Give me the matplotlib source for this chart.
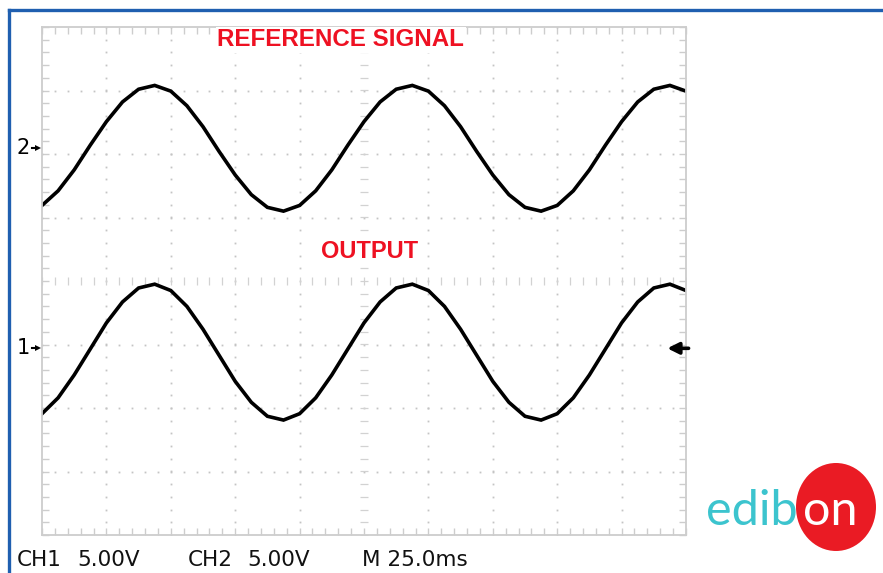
import numpy as np
import matplotlib
matplotlib.use("Agg")
import matplotlib.pyplot as plt
from matplotlib.lines import Line2D
from matplotlib.patches import Ellipse
from matplotlib import font_manager
from matplotlib.ticker import MultipleLocator

# screen samples, one every 0.25 division (25 ms/div), values in divisions
stepDiv = 0.25
ch2Ref = [1.19, 1.42, 1.75, 2.14, 2.51, 2.82, 3.02, 3.08, 2.99, 2.76, 2.43, 2.04, 1.67, 1.36, 1.16, 1.10,
          1.19, 1.42, 1.75, 2.14, 2.51, 2.82, 3.02, 3.08, 2.99, 2.76, 2.43, 2.04, 1.67, 1.36, 1.16, 1.10,
          1.19, 1.42, 1.75, 2.14, 2.51, 2.82, 3.02, 3.08, 2.99]
ch1Out = [-2.09, -1.84, -1.48, -1.07, -0.66, -0.33, -0.11, -0.05, -0.15, -0.40, -0.76, -1.17, -1.58, -1.91, -2.13, -2.19,
          -2.09, -1.84, -1.48, -1.07, -0.66, -0.33, -0.11, -0.05, -0.15, -0.40, -0.76, -1.17, -1.58, -1.91, -2.13, -2.19,
          -2.09, -1.84, -1.48, -1.07, -0.66, -0.33, -0.11, -0.05, -0.15]
ch2Level = 2.09
ch1Level = -1.06
trigLevel = -1.06
footer = [("CH1", 17), ("5.00V", 77), ("CH2", 188), ("5.00V", 247), ("M 25.0ms", 362)]

W, H = 883, 573
def fx(x):
    return x / W
def fy(y):
    return 1 - y / H

installed = {f.name for f in font_manager.fontManager.ttflist}
narrow = "Liberation Sans Narrow" in installed

fig = plt.figure(figsize=(W / 100, H / 100), dpi=100)
fig.patch.set_facecolor("white")

# blue frame of the screenshot
fig.add_artist(Line2D([fx(9), fx(9)], [fy(10), fy(H + 5)], color="#1f5fb0", lw=2.4))
fig.add_artist(Line2D([fx(9), fx(W + 5)], [fy(10), fy(10)], color="#1f5fb0", lw=2.4))

ax = fig.add_axes([fx(42), fy(535), (686 - 42) / W, (535 - 27) / H])
ax.set_xlim(0, 10)
ax.set_ylim(-4, 4)
gridCol = "#cdcdcd"
for s in ax.spines.values():
    s.set_color(gridCol)
    s.set_linewidth(1.3)
ax.xaxis.set_major_locator(MultipleLocator(1))
ax.yaxis.set_major_locator(MultipleLocator(1))
ax.xaxis.set_minor_locator(MultipleLocator(0.2))
ax.yaxis.set_minor_locator(MultipleLocator(0.2))
ax.tick_params(which="both", direction="in", length=5, width=1, color=gridCol,
               top=True, right=True, labelbottom=False, labelleft=False)

# dotted graticule
fine = np.arange(0, 10.01, 0.2)
fineY = np.arange(-4, 4.01, 0.2)
for i in range(1, 10):
    if i == 5:
        continue
    ax.plot(np.full(len(fineY), i), fineY, ls="none", marker="s", ms=1.3, color="#c4c4c4", mew=0)
for j in range(-3, 4):
    if j == 0:
        continue
    ax.plot(fine, np.full(len(fine), j), ls="none", marker="s", ms=1.3, color="#c4c4c4", mew=0)
ax.plot(fine, np.zeros(len(fine)), ls="none", marker="|", ms=6, color="#d2d2d2", mew=0.9)
ax.plot(np.full(len(fineY), 5), fineY, ls="none", marker="_", ms=6, color="#d2d2d2", mew=0.9)

t = np.arange(len(ch2Ref)) * stepDiv
ax.plot(t, ch2Ref, color="black", lw=2.6, solid_joinstyle="miter")
ax.plot(t, ch1Out, color="black", lw=2.6, solid_joinstyle="miter")

ax.text(4.64, 3.80, "REFERENCE SIGNAL", color="#ee1122", fontsize=17.4, fontweight="bold",
        family="Liberation Sans", ha="center", va="center",
        bbox=dict(facecolor="white", edgecolor="none", pad=1))
ax.text(5.09, 0.46, "OUTPUT", color="#ee1122", fontsize=17, fontweight="bold",
        family="Liberation Sans", ha="center", va="center",
        bbox=dict(facecolor="white", edgecolor="none", pad=1))

# channel ground markers and trigger level
for lab, lvl in [("2", ch2Level), ("1", ch1Level)]:
    fig.text(fx(17), fy(281 - lvl * 63.5), lab, fontsize=15, family="DejaVu Sans",
             ha="left", va="center", color="black")
    ax.plot([-0.16, -0.06], [lvl, lvl], color="black", lw=1.5, clip_on=False)
    ax.plot([-0.06], [lvl], marker=">", ms=5, color="black", clip_on=False, mew=0)
ax.annotate("", xy=(9.71, trigLevel), xytext=(10.04, trigLevel),
            arrowprops=dict(arrowstyle="-|>", lw=2.6, color="black", mutation_scale=17,
                            shrinkA=0, shrinkB=0))

# bottom status line
for txt, x in footer:
    if narrow:
        fig.text(fx(x), fy(566), txt, fontsize=18, family="Liberation Sans Narrow",
                 ha="left", va="baseline", color="#111111")
    else:
        fig.text(fx(x), fy(566), txt, fontsize=15.5, family="DejaVu Sans",
                 ha="left", va="baseline", color="#111111")

# logo
fig.add_artist(Ellipse((fx(836), fy(507)), 80 / W, 88 / H, transform=fig.transFigure,
                       facecolor="#ea1b24", edgecolor="none"))
fig.text(fx(706), fy(525), "edib", fontsize=35, family="Lato", fontweight="normal",
         color="#3cc4ce", ha="left", va="baseline")
fig.text(fx(803), fy(525), "on", fontsize=35, family="Lato", fontweight="normal",
         color="white", ha="left", va="baseline")

fig.savefig("out.png", dpi=100, facecolor="white")
